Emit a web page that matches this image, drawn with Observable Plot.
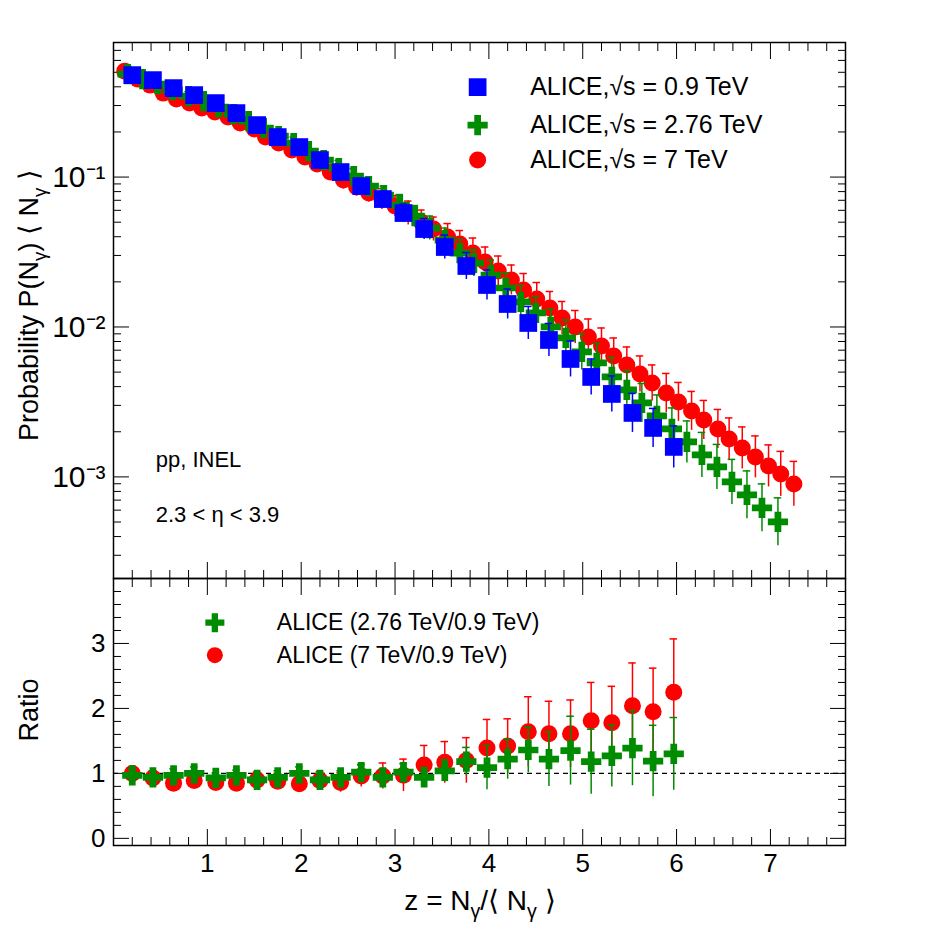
<!DOCTYPE html>
<html><head><meta charset="utf-8">
<script src="https://cdn.jsdelivr.net/npm/d3@7"></script>
<script src="https://cdn.jsdelivr.net/npm/@observablehq/plot@0.6"></script>
<style>
body{margin:0;background:#fff;font-family:"Liberation Sans",Arial,sans-serif}
#c{position:relative;width:950px;height:931px}
#c svg{display:block}
</style></head><body><div id="c"></div>
<script>
// ---- data (P values stored as positions read in pixels on the log axis, converted below) ----
const zBlue = [0.20,0.42,0.64,0.86,1.09,1.31,1.53,1.75,1.98,2.20,2.42,2.64,2.87,3.09,3.31,3.53,3.76,3.98,4.20,4.42,4.64,4.87,5.09,5.31,5.53,5.75,5.97];
const pBlueY = [75,80,88,95,103,113,125,137,147,160,172,186,199,213,229,247,266,285,304,323,340,359,377,394,413,428,447];
const eBlue = [0.02,0.02,0.02,0.02,0.02,0.02,0.025,0.03,0.03,0.03,0.035,0.04,0.05,0.06,0.07,0.08,0.09,0.1,0.1,0.11,0.11,0.12,0.12,0.12,0.13,0.13,0.14];

const zGreen = [0.15,0.31,0.47,0.63,0.80,0.96,1.12,1.28,1.44,1.60,1.76,1.92,2.08,2.24,2.40,2.56,2.72,2.88,3.05,3.21,3.37,3.53,3.69,3.84,4.02,4.18,4.34,4.50,4.66,4.82,4.99,5.15,5.31,5.47,5.63,5.79,5.95,6.11,6.27,6.43,6.59,6.75,6.91,7.08];
const pGreenY = [74,79,84,90,96,101,107,114,121,128,136,143,151,160,168,176,186,195,205,216,228,240,253,263,275,288,302,313,327,338,352,363,377,390,403,416,429,442,455,467,482,495,508,522];
const eGreen = [0.04,0.03,0.03,0.03,0.03,0.03,0.03,0.03,0.03,0.03,0.04,0.04,0.04,0.05,0.05,0.05,0.06,0.06,0.07,0.07,0.08,0.08,0.09,0.09,0.1,0.1,0.11,0.11,0.12,0.12,0.12,0.13,0.13,0.13,0.13,0.14,0.14,0.14,0.15,0.15,0.15,0.16,0.16,0.16];

const zRed = [0.12,0.26,0.39,0.53,0.67,0.81,0.94,1.08,1.22,1.35,1.50,1.62,1.76,1.90,2.04,2.17,2.31,2.45,2.59,2.72,2.86,3.00,3.14,3.28,3.41,3.56,3.69,3.83,3.96,4.10,4.24,4.37,4.51,4.65,4.78,4.92,5.06,5.20,5.33,5.47,5.61,5.74,5.89,6.02,6.16,6.29,6.44,6.56,6.70,6.84,6.98,7.11,7.25];
const pRedY = [71,79,85,93,99,103,108,112,117,123,129,137,143,150,157,164,172,180,187,193,199,206,213,222,229,237,244,253,262,271,280,290,299,308,318,327,337,346,356,365,374,383,393,402,411,420,429,439,448,457,466,474,484];
const eRed = [0.04,0.04,0.04,0.04,0.04,0.04,0.04,0.04,0.04,0.04,0.04,0.04,0.04,0.05,0.05,0.05,0.05,0.06,0.06,0.06,0.07,0.07,0.08,0.08,0.08,0.09,0.09,0.1,0.1,0.1,0.1,0.11,0.11,0.11,0.11,0.11,0.12,0.12,0.12,0.12,0.12,0.12,0.13,0.13,0.13,0.13,0.13,0.14,0.14,0.14,0.14,0.15,0.15];

const rGreen = [0.97,0.94,0.97,1.00,0.93,0.97,0.90,0.94,1.00,0.90,0.94,1.02,0.94,1.02,0.94,1.04,1.18,1.09,1.22,1.36,1.22,1.35,1.18,1.27,1.39,1.19,1.30];
const rGreenErr = [0.1,0.1,0.1,0.1,0.08,0.08,0.08,0.1,0.1,0.1,0.1,0.12,0.12,0.13,0.15,0.17,0.22,0.34,0.31,0.35,0.42,0.53,0.5,0.48,0.58,0.55,0.56];
const rRed = [1.00,0.93,0.85,0.89,0.86,0.85,0.90,0.88,0.84,0.89,0.86,0.96,0.96,0.97,1.13,1.17,1.20,1.39,1.42,1.64,1.61,1.61,1.81,1.78,2.04,1.95,2.25];
const rRedErr = [0.1,0.1,0.1,0.1,0.1,0.1,0.12,0.12,0.13,0.14,0.15,0.17,0.2,0.25,0.3,0.32,0.35,0.44,0.42,0.54,0.5,0.52,0.59,0.56,0.66,0.67,0.82];

const xMajor = [1,2,3,4,5,6,7];
const yMajorTop = [0.001,0.01,0.1];
const yMajorRatio = [0,1,2,3];
const legendTop = ["ALICE,√s = 0.9 TeV","ALICE,√s = 2.76 TeV","ALICE,√s = 7 TeV"];
const legendRatio = ["ALICE (2.76 TeV/0.9 TeV)","ALICE (7 TeV/0.9 TeV)"];

// ---- build tables ----
const BLUE="#0000ff", GREEN="#008c00", RED="#ff0000";
const pix = y => 10**(-1-(y-177)/150);
const blue = zBlue.map((z,i)=>({z,p:pix(pBlueY[i]),e:eBlue[i]}));
const green = zGreen.map((z,i)=>({z,p:pix(pGreenY[i]),e:eGreen[i]}));
const red = zRed.map((z,i)=>({z,p:pix(pRedY[i]),e:eRed[i]}));
const ratG = rGreen.map((r,i)=>({z:zBlue[i],r,e:rGreenErr[i]}));
const ratR = rRed.map((r,i)=>({z:zBlue[i],r,e:rRedErr[i]}));

const W=950, ML=113, MR=105;
const xDom=[0,7.8];
const xMinor = d3.range(0.2,7.8,0.2).filter(v=>Math.abs(v-Math.round(v))>0.01);
const yMinorTop = [];
for (const d of [1e-4,1e-3,1e-2,1e-1]) for (let k=2;k<=9;k++){const v=d*k; if(v>2.1e-4&&v<0.79) yMinorTop.push(v);}
const yMinorR = d3.range(0,4,0.2).filter(v=>Math.abs(v-Math.round(v))>0.01);
const sup = {"-1":"⁻¹","-2":"⁻²","-3":"⁻³"};
const font = {fontSize:26, fontFamily:"Liberation Sans, Arial, sans-serif"};
const blank = ()=>"";

function errMarks(data, lo, hi, color){
  return [
    Plot.ruleX(data,{x:"z",y1:lo,y2:hi,stroke:color,strokeWidth:1.5}),
    Plot.ruleY(data,{y:hi,x1:d=>d.z-0.04,x2:d=>d.z+0.04,stroke:color,strokeWidth:1.5})
  ];
}
const xTicksMarks = (labels)=>[
  Plot.axisX({ticks:xMinor,tickSize:-8,tickFormat:blank,anchor:"bottom",label:null}),
  Plot.axisX({ticks:xMinor,tickSize:-8,tickFormat:blank,anchor:"top",label:null}),
  Plot.axisX({ticks:xMajor,tickSize:-16,anchor:"top",tickFormat:blank,label:null}),
  Plot.axisX({ticks:xMajor,tickSize:-16,anchor:"bottom",tickPadding:labels?24:0,tickFormat:labels?d=>d:blank,fontSize:26,label:null}),
];
const yTicksMarks = (major, minor, fmt, fs)=>[
  Plot.axisY({ticks:minor,tickSize:-8,tickFormat:blank,anchor:"left",label:null}),
  Plot.axisY({ticks:minor,tickSize:-8,tickFormat:blank,anchor:"right",label:null}),
  Plot.axisY({ticks:major,tickSize:-16,anchor:"right",tickFormat:blank,label:null}),
  Plot.axisY({ticks:major,tickSize:-16,anchor:"left",tickPadding:24,fontSize:fs,tickFormat:fmt,label:null}),
];

const topPlot = Plot.plot({
  width:W,height:578,marginLeft:ML,marginRight:MR,marginTop:42,marginBottom:0,
  style:{...font,overflow:"visible"},
  x:{domain:xDom},
  y:{type:"log",domain:[2.1e-4,0.79]},
  marks:[
    Plot.frame({stroke:"#000",strokeWidth:1.5}),
    ...xTicksMarks(false),
    ...yTicksMarks(yMajorTop, yMinorTop, d=>"10"+sup[String(Math.round(Math.log10(d)))], 30),
    ...errMarks(red,d=>d.p/10**d.e,d=>d.p*10**d.e,RED),
    Plot.dot(red,{x:"z",y:"p",r:8.5,fill:RED}),
    ...errMarks(green,d=>d.p/10**d.e,d=>d.p*10**d.e,GREEN),
    Plot.dot(green,{x:"z",y:"p",symbol:"cross",r:8.5,fill:GREEN}),
    ...errMarks(blue,d=>d.p/10**d.e,d=>d.p*10**d.e,BLUE),
    Plot.dot(blue,{x:"z",y:"p",symbol:"square",r:10,fill:BLUE}),
    Plot.dot([0],{x:3.88,y:0.398,symbol:"square",r:10,fill:BLUE}),
    Plot.dot([0],{x:3.88,y:0.222,symbol:"cross",r:8.5,fill:GREEN}),
    Plot.dot([0],{x:3.88,y:0.130,r:8.5,fill:RED}),
    Plot.text(legendTop,{x:4.44,y:(d,i)=>[0.398,0.222,0.130][i],text:d=>d,textAnchor:"start",fontSize:25}),
    Plot.text(["pp, INEL"],{x:0.45,y:1.3e-3,text:d=>d,textAnchor:"start",fontSize:22}),
    Plot.text(["2.3 < η < 3.9"],{x:0.45,y:5.6e-4,text:d=>d,textAnchor:"start",fontSize:22})
  ]
});

const botPlot = Plot.plot({
  width:W,height:353,marginLeft:ML,marginRight:MR,marginTop:0,marginBottom:86,
  style:{...font,overflow:"visible"},
  x:{domain:xDom},
  y:{domain:[-0.11,4.0]},
  marks:[
    Plot.frame({stroke:"#000",strokeWidth:1.5}),
    Plot.ruleY([1],{stroke:"#000",strokeDasharray:"5,4",strokeWidth:1.2}),
    ...xTicksMarks(true),
    ...yTicksMarks(yMajorRatio, yMinorR, d=>d, 26),
    ...errMarks(ratR,d=>d.r-d.e,d=>d.r+d.e,RED),
    Plot.dot(ratR,{x:"z",y:"r",r:8.5,fill:RED}),
    ...errMarks(ratG,d=>d.r-d.e,d=>d.r+d.e,GREEN),
    Plot.dot(ratG,{x:"z",y:"r",symbol:"cross",r:8.5,fill:GREEN}),
    Plot.dot([0],{x:1.08,y:3.32,symbol:"cross",r:8,fill:GREEN}),
    Plot.dot([0],{x:1.08,y:2.82,r:8,fill:RED}),
    Plot.text(legendRatio,{x:1.74,y:(d,i)=>[3.32,2.82][i],text:d=>d,textAnchor:"start",fontSize:23})
  ]
});

const c=document.getElementById("c");
c.appendChild(topPlot); c.appendChild(botPlot);

function title2(svg,parts,x,y,rot,anchor,fs){
  const t=d3.select(svg).append("text").attr("font-size",fs).attr("fill","#000")
    .attr("font-family","Liberation Sans, Arial, sans-serif").attr("text-anchor",anchor)
    .attr("transform",`translate(${x},${y})`+(rot?" rotate(-90)":""));
  let prevSub=false;
  for(const [s,sub] of parts){
    const ts=t.append("tspan").text(s);
    if(sub){ts.attr("font-size",fs*0.7).attr("dy",8);prevSub=true;}
    else {if(prevSub) ts.attr("dy",-8); prevSub=false;}
  }
}
title2(topPlot,[["Probability P(N",0],["γ",1],[") ⟨ N",0],["γ",1],[" ⟩",0]],38,305,true,"middle",27);
title2(botPlot,[["Ratio",0]],38,132,true,"middle",27);
title2(botPlot,[["z = N",0],["γ",1],["/⟨ N",0],["γ",1],[" ⟩",0]],480,332,false,"middle",28);
</script></body></html>
